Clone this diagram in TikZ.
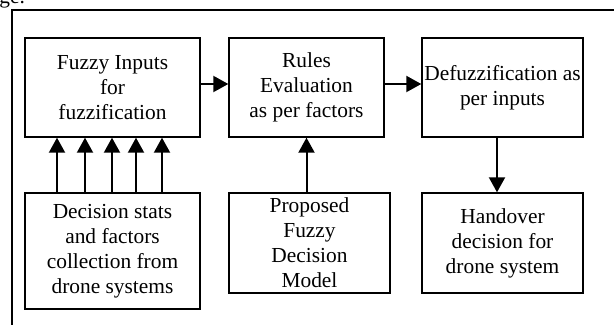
\documentclass[tikz,border=0pt]{standalone}
\usepackage{fontspec}
\setmainfont{Liberation Serif}
\usetikzlibrary{arrows.meta,positioning}

\begin{document}
\begin{tikzpicture}[
    x=0.5pt, y=-0.5pt,
    block/.style={rectangle, draw, line width=0.7pt, inner sep=1pt, align=center,
        font=\fontsize{10.7}{12.5}\selectfont, minimum width=#1},
    block/.default=80.5pt,
    arr/.style={-{Triangle[length=7.5pt, width=8pt]}, line width=1pt}
]
\useasboundingbox (0,0) rectangle (614,325);
\clip (0,0) rectangle (614,325);

% caption line cut off above the frame
\node[anchor=base west, inner sep=0pt, font=\fontsize{10.7}{12.5}\selectfont] (capt) at (-1,4) {ge.};

% outer frame (runs past the right and bottom edges)
\draw[line width=0.6pt] (12,10) rectangle (650,360);

% Top row
\node[block=87.5pt, minimum height=49.5pt] (inputs) at (112.5,87.5)
    {Fuzzy Inputs\\for\\fuzzification};
\node[block=77.5pt, minimum height=49.5pt] (rules) at (306.5,87.5)
    {Rules\\Evaluation\\as per factors};
\node[block, minimum height=49.5pt] (defuzz) at (502.5,87.5)
    {Defuzzification as\\per inputs};

% Bottom row
\node[block=87.5pt, minimum height=58pt] (stats) at (112.5,251)
    {Decision stats\\and factors\\collection from\\drone systems};
\node[block, minimum height=50pt] (model) at (309.5,243)
    {Proposed\\Fuzzy\\Decision\\Model};
\node[block, minimum height=50pt] (handover) at (502.5,243)
    {Handover\\decision for\\drone system};

% -- Arrows --
\draw[arr] ([yshift=1.75pt]inputs.east) -- ([yshift=1.75pt]rules.west);
\draw[arr] ([yshift=1.75pt]rules.east) -- ([yshift=1.75pt]defuzz.west);
\foreach \dx in {-27.75,-13.75,-0.25,11.75,24.75}
    \draw[arr] ([xshift=\dx pt]stats.north) -- ([xshift=\dx pt]inputs.south);
\draw[arr] (rules.south |- model.north) -- (rules.south);
\draw[arr] ([xshift=-2.75pt]defuzz.south) -- ([xshift=-2.75pt]handover.north);

\end{tikzpicture}
\end{document}
